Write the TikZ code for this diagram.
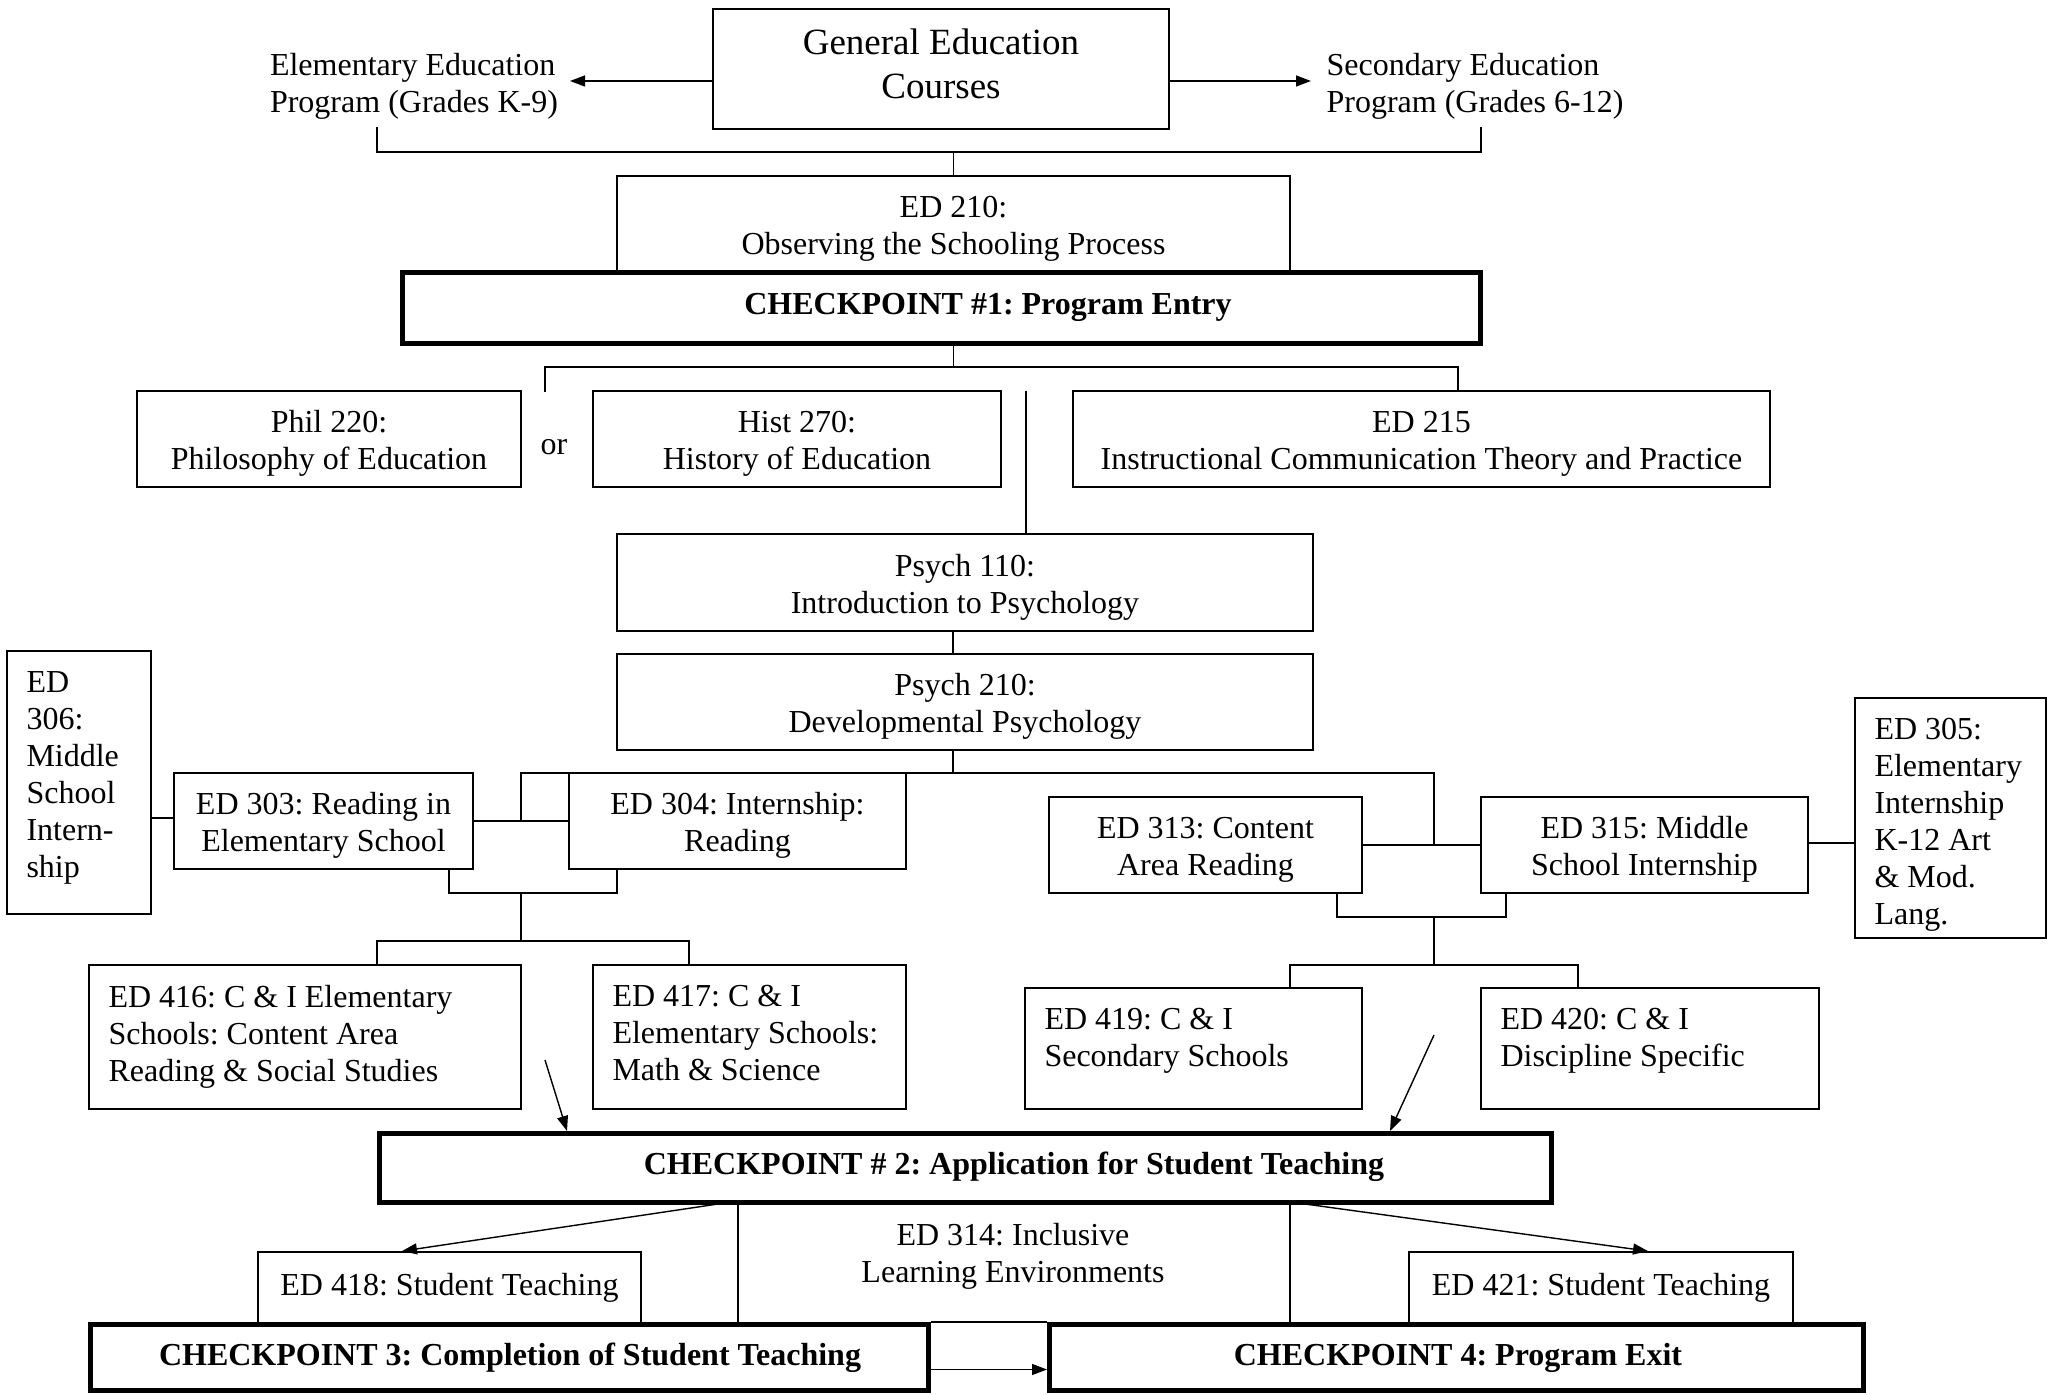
\documentclass[tikz,border=0pt]{standalone}
\usepackage{fontspec}
\setmainfont{Liberation Serif}
\usetikzlibrary{arrows.meta}
\frenchspacing
\newcommand\bx[7][]{\node[box,#1,minimum width={(#5-#3)*0.5pt},minimum height={(#6-#4)*0.5pt}] (#2) at ({(#3+#5)/2},{(#4+#6)/2}) {#7};}
\newcommand\bxc[7][0pt]{\bx{#2}{#3}{#4}{#5}{#6}{}\node[ctxt] (#2t) at ([yshift=#1]#2.center) {#7};}
\newcommand\bxl[6]{\bx{#1}{#2}{#3}{#4}{#5}{}\node[txt] (#1t) at ([shift={(20,21)}]#1.north west) {#6};}
\begin{document}
\frenchspacing
\begin{tikzpicture}[x=0.5pt,y=-0.5pt]
\tikzset{
 every node/.style={font=\fontsize{16}{18.5}\selectfont},
 box/.style={draw, line width=0.9pt, inner sep=0pt, align=center},
 cp/.style={line width=2.5pt},
 cpt/.style={inner sep=0pt, font=\fontsize{16}{18.5}\selectfont\bfseries},
 txt/.style={inner sep=0pt, align=left, anchor=north west},
 ctxt/.style={inner sep=0pt, align=center},
 ln/.style={line width=0.7pt},
 arr/.style={line width=0.7pt, -{Triangle[length=7.5pt,width=5.5pt]}},
}
\useasboundingbox (0,0) rectangle (2047,1395);
% top
\bx{gened}{713}{9}{1169}{129}{}
\node[ctxt, font=\fontsize{18.5}{22}\selectfont] (genedt) at ([yshift=2.5pt]gened.center) {General Education\\Courses};
\node[inner sep=0pt, align=left] (eltext) at (414,86.5) {Elementary Education\\Program (Grades K-9)};
\node[inner sep=0pt, align=left] (setext) at (1475,86.5) {Secondary Education\\Program (Grades 6-12)};
\draw[arr] ([yshift=-6pt]gened.west) -- (570,81);
\draw[arr] ([yshift=-6pt]gened.east) -- (1311,81);
\coordinate (tb1) at (377,127); \coordinate (tb2) at (1481,127);
\draw[ln] (tb1) -- (377,152) -- (1481,152) -- (tb2);
% ED210 and CP1
\bxc[-2.2pt]{ed210}{617}{176}{1290}{272.5}{ED 210:\\Observing the Schooling Process}
\draw[ln] (ed210.north) -- ++(0,-24);
\bx[cp]{cp1}{402.5}{272.5}{1480.5}{343.5}{}
\node[cpt] (cp1t) at (988,307) {CHECKPOINT \#1: Program Entry};
\draw[ln] (ed210.south |- cp1.south) -- (953.5,367);
\coordinate (orend) at (545,392);
\draw[ln] (orend) -- (545,367) -- (1458,367) -- (1458,391);
% second row
\bxc[-2.2pt]{phil}{137}{391}{521}{487}{Phil 220:\\Philosophy of Education}
\node (or) at (554,447) {or};
\bxc[-2.2pt]{hist}{593}{391}{1001}{487}{Hist 270:\\History of Education}
\bxc[-2.2pt]{ed215}{1073}{391}{1770}{487}{ED 215\\Instructional Communication Theory and Practice}
\coordinate (vfree) at (1026,391);
% psych
\bxc[-2.2pt]{psy1}{617}{534}{1313}{631}{Psych 110:\\Introduction to Psychology}
\bxc[-2.2pt]{psy2}{617}{654}{1313}{750}{Psych 210:\\Developmental Psychology}
\draw[ln] (vfree) -- (vfree |- psy1.north);
\draw[ln] (953,631) -- (953,654);
\draw[ln] (953,750) -- (953,773);
\draw[ln] (521,821) -- (521,773) -- (1434,773) -- (1434,845);
% left branch
\bxl{ed306}{7}{651}{151}{914}{ED\\306:\\Middle\\School\\Intern-\\ship}
\bxc[-2.2pt]{ed303}{174}{773}{473}{869}{ED 303: Reading in\\Elementary School}
\bxc[-2.2pt]{ed304}{569}{773}{906}{869}{ED 304: Internship:\\Reading}
\draw[ln] (ed306.east |- 0,818) -- (ed303.west |- 0,818);
\draw[ln] (ed303.east |- 0,821) -- (ed304.west |- 0,821);
\draw[ln] (449,869) -- (449,893) -- (617,893) -- (617,869);
\draw[ln] (521,893) -- (521,941);
\draw[ln] (377,965) -- (377,941) -- (689,941) -- (689,965);
\bxl{ed416}{89}{965}{521}{1109}{ED 416: C \& I Elementary\\Schools: Content Area\\Reading \& Social Studies}
\bxl{ed417}{593}{965}{906}{1109}{ED 417: C \& I\\Elementary Schools:\\Math \& Science}
% right branch
\bxc[-2.2pt]{ed313}{1049}{797}{1362}{893}{ED 313: Content\\Area Reading}
\bxc[-2.2pt]{ed315}{1481}{797}{1808}{893}{ED 315: Middle\\School Internship}
\bxl{ed305}{1855}{698}{2046}{938}{ED 305:\\Elementary\\Internship\\K-12 Art\\\& Mod.\\Lang.}
\draw[ln] (ed313.east |- 0,845) -- (ed315.west |- 0,845);
\draw[ln] (ed315.east |- 0,843) -- (ed305.west |- 0,843);
\draw[ln] (1337,893) -- (1337,917) -- (1506,917) -- (1506,893);
\draw[ln] (1434,917) -- (1434,965);
\draw[ln] (1290,988) -- (1290,965) -- (1578,965) -- (1578,988);
\bxl{ed419}{1025}{988}{1362}{1109}{ED 419: C \& I\\Secondary Schools}
\bxl{ed420}{1481}{988}{1819}{1109}{ED 420: C \& I\\Discipline Specific}
% CP2
\bx[cp]{cp2}{379.5}{1133.5}{1551.5}{1202.5}{}
\node[cpt] (cp2t) at (1014,1167) {CHECKPOINT \# 2: Application for Student Teaching};
\coordinate (a1) at (545,1060);
\coordinate (a2) at (1434,1035);
\draw[arr] (a1) -- (567,1131);
\draw[arr] (a2) -- (1390,1131);
% bottom
\bx{ed418}{258}{1252}{641}{1324.5}{ED 418: Student Teaching}
\bx{ed421}{1409}{1252}{1793}{1324.5}{ED 421: Student Teaching}
\node[align=center, inner sep=0pt] (ed314) at (1013,1256) {ED 314: Inclusive\\Learning Environments};
\bx[cp]{cp3}{90.5}{1324.5}{928.5}{1390.5}{}
\node[cpt] (cp3t) at (510,1358) {CHECKPOINT 3: Completion of Student Teaching};
\bx[cp]{cp4}{1049.5}{1324.5}{1863.5}{1390.5}{}
\node[cpt] (cp4t) at (1458,1358) {CHECKPOINT 4: Program Exit};
\draw[arr] (718,1204) -- (ed418.north -| 402,0);
\draw[arr] (1305,1204) -- (ed421.north -| 1648,0);
\draw[ln] (738,1204) -- (738,1323);
\draw[ln] (1290,1204) -- (1290,1323);
\draw[ln] (cp3.north east) -- (cp4.north west);
\draw[arr] ([yshift=-6pt]cp3.east) -- ([yshift=-6pt]cp4.west);
\end{tikzpicture}
\end{document}
